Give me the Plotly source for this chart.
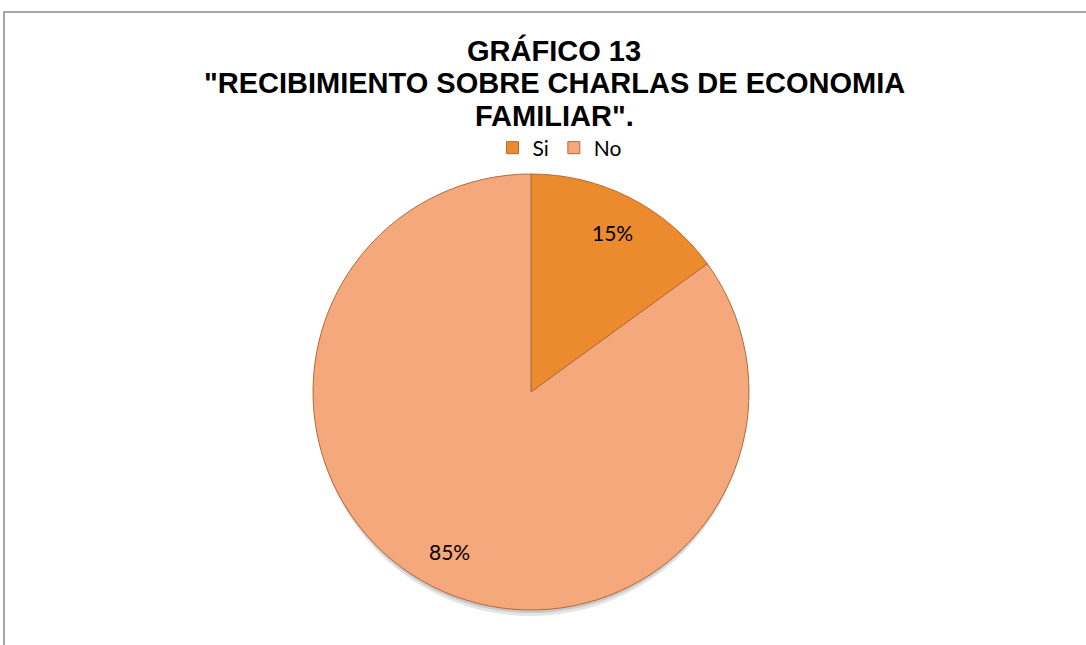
import math
import plotly.graph_objects as go

categories = ["Si", "No"]
values = [15, 85]
colors = ["#EC8A2E", "#F4A87C"]
title_lines = ["GRÁFICO 13", '"RECIBIMIENTO SOBRE CHARLAS DE ECONOMIA', 'FAMILIAR".']

W, H = 1086, 645
CX, CY, R = 531, 392, 218


def px(x):
    return x / W


def py(y):
    return 1 - y / H


fig = go.Figure()
fig.add_trace(go.Pie(
    labels=categories,
    values=values,
    sort=False,
    direction="clockwise",
    rotation=0,
    marker=dict(colors=colors, line=dict(color="#B46A3A", width=1)),
    textinfo="none",
    domain=dict(x=[px(CX - R), px(CX + R)], y=[py(CY + R), py(CY - R)]),
    hoverinfo="label+percent",
    showlegend=True,
))

annotations = []
# title lines
for i, line in enumerate(title_lines):
    annotations.append(dict(
        text=f"<b>{line}</b>", x=px(554), y=py(51 + 32.5 * i),
        xref="paper", yref="paper", xanchor="center", yanchor="middle",
        showarrow=False,
        font=dict(family="Liberation Sans, Arial, sans-serif", size=29, color="#000000"),
    ))

# percentage labels placed at slice mid-angles
total = sum(values)
cum = 0
for v in values:
    mid = (cum + v / 2) / total * 2 * math.pi
    cum += v
    lx = CX + 0.82 * R * math.sin(mid)
    ly = CY - 0.82 * R * math.cos(mid)
    annotations.append(dict(
        text=f"{round(v / total * 100)}%", x=px(lx), y=py(ly),
        xref="paper", yref="paper", xanchor="center", yanchor="middle",
        showarrow=False,
        font=dict(family="Lato, Open Sans, sans-serif", size=21, color="#000000"),
    ))

shapes = [
    # soft shadow under the pie
    dict(type="circle", xref="paper", yref="paper", layer="below",
         x0=px(CX - R + 2), x1=px(CX + R - 2), y0=py(CY + R + 6), y1=py(CY - R + 6),
         line=dict(width=0), fillcolor="rgba(0,0,0,0.10)"),
    dict(type="circle", xref="paper", yref="paper", layer="below",
         x0=px(CX - R + 1), x1=px(CX + R - 1), y0=py(CY + R + 3), y1=py(CY - R + 3),
         line=dict(width=0), fillcolor="rgba(0,0,0,0.12)"),
    # chart border
    dict(type="rect", xref="paper", yref="paper",
         x0=px(4), x1=1.01, y0=-0.05, y1=py(12),
         line=dict(color="#8C8C8C", width=1.5), fillcolor="rgba(0,0,0,0)"),
]

fig.update_layout(
    width=W, height=H,
    margin=dict(l=0, r=0, t=0, b=0),
    paper_bgcolor="white",
    plot_bgcolor="white",
    annotations=annotations,
    shapes=shapes,
    legend=dict(
        orientation="h",
        x=px(560), xanchor="center",
        y=py(148), yanchor="middle",
        font=dict(family="Lato, Open Sans, sans-serif", size=21, color="#000000"),
        itemwidth=30,
        traceorder="normal",
        bgcolor="rgba(0,0,0,0)",
    ),
)

fig.write_html("out.html", config={"displayModeBar": False},
               post_script="document.body.style.margin='0';")
